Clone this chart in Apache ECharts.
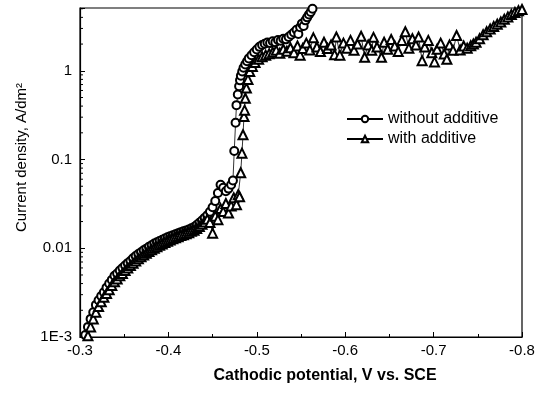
<!DOCTYPE html>
<html>
<head>
<meta charset="utf-8">
<script src="https://cdn.jsdelivr.net/npm/echarts@6/dist/echarts.min.js"></script>
<style>html,body{margin:0;padding:0;background:#fff}#c{width:539px;height:396px}</style>
</head>
<body>
<div id="c"></div>
<script>
// Series names
const seriesNames = ['without additive', 'with additive'];

// Without additive (circles): potential (V vs SCE) and current density (A/dm2)
const xWithout = [
  -0.306,-0.309,-0.312,-0.315,-0.318,-0.321,-0.324,-0.327,-0.330,-0.333,
  -0.336,-0.339,-0.342,-0.345,-0.348,-0.351,-0.354,-0.357,-0.360,-0.363,
  -0.366,-0.369,-0.372,-0.375,-0.378,-0.381,-0.384,-0.387,-0.390,-0.393,
  -0.396,-0.399,-0.402,-0.405,-0.408,-0.411,-0.414,-0.417,-0.420,-0.423,
  -0.426,-0.429,-0.432,-0.435,-0.438,-0.441,-0.444,-0.447,-0.450,-0.453,
  -0.456,-0.459,-0.462,-0.465,-0.468,-0.471,-0.473,-0.4745,-0.476,-0.477,
  -0.4785,-0.480,-0.481,-0.482,-0.4835,-0.485,-0.487,-0.489,-0.491,-0.494,
  -0.497,-0.500,-0.503,-0.506,-0.509,-0.512,-0.515,-0.518,-0.521,-0.524,
  -0.527,-0.530,-0.533,-0.536,-0.539,-0.542,-0.545,-0.547,-0.549,-0.551,
  -0.553,-0.555,-0.557,-0.559,-0.561,-0.563,-0.565,-0.567
];
const yWithout = [
  0.00105,0.0013,0.0016,0.0019,0.0023,0.0026,0.0029,0.0032,0.0036,0.0040,
  0.0044,0.0049,0.0052,0.0056,0.0060,0.0064,0.0068,0.0072,0.0077,0.0082,
  0.0086,0.0090,0.0095,0.0099,0.0104,0.0108,0.0113,0.0117,0.0121,0.0125,
  0.0129,0.0133,0.0137,0.0140,0.0144,0.0148,0.0152,0.0155,0.0159,0.0163,
  0.0168,0.0174,0.0183,0.0194,0.0206,0.0220,0.0236,0.0258,0.0290,0.0340,
  0.0420,0.0520,0.0480,0.0440,0.0470,0.0520,0.0580,0.125,0.26,0.41,
  0.54,0.67,0.78,0.88,0.98,1.08,1.18,1.28,1.38,1.50,
  1.62,1.74,1.86,1.95,2.02,2.08,2.05,2.15,2.10,2.22,
  2.18,2.30,2.26,2.40,2.55,2.70,2.90,2.60,3.10,3.40,
  3.20,3.70,4.00,4.30,4.60,5.00,5.50,6.00
];

// With additive (triangles)
const xWith = [
  -0.309,-0.312,-0.315,-0.318,-0.321,-0.324,-0.327,-0.330,-0.333,-0.336,
  -0.339,-0.342,-0.345,-0.348,-0.351,-0.354,-0.357,-0.360,-0.363,-0.366,
  -0.369,-0.372,-0.375,-0.378,-0.381,-0.384,-0.387,-0.390,-0.393,-0.396,
  -0.399,-0.402,-0.405,-0.408,-0.411,-0.414,-0.417,-0.420,-0.423,-0.426,
  -0.429,-0.432,-0.435,-0.438,-0.441,-0.444,-0.447,-0.450,-0.453,-0.456,
  -0.459,-0.462,-0.465,-0.468,-0.471,-0.474,-0.477,-0.479,-0.4805,-0.4818,
  -0.4832,-0.4844,-0.4855,-0.4862,-0.487,-0.4882,-0.490,-0.492,-0.495,-0.498,
  -0.502,-0.506,-0.510,-0.514,-0.518,-0.522,-0.526,-0.530,-0.534,-0.538,
  -0.542,-0.546,-0.549,-0.552,-0.556,-0.560,-0.564,-0.568,-0.572,-0.576,
  -0.580,-0.584,-0.588,-0.590,-0.594,-0.598,-0.602,-0.606,-0.610,-0.614,
  -0.618,-0.622,-0.626,-0.630,-0.632,-0.636,-0.641,-0.644,-0.648,-0.652,
  -0.656,-0.660,-0.664,-0.668,-0.672,-0.676,-0.680,-0.683,-0.687,-0.690,
  -0.694,-0.698,-0.701,-0.704,-0.708,-0.712,-0.715,-0.718,-0.722,-0.726,
  -0.730,-0.734,-0.738,-0.742,-0.745,-0.748,-0.752,-0.756,-0.760,-0.764,
  -0.768,-0.772,-0.776,-0.780,-0.784,-0.788,-0.792,-0.796,-0.800
];
const yWith = [
  0.00103,0.0013,0.0016,0.0019,0.0022,0.0025,0.0028,0.0031,0.0034,0.0038,
  0.0042,0.0045,0.0049,0.0052,0.0056,0.0060,0.0064,0.0068,0.0072,0.0076,
  0.0080,0.0084,0.0088,0.0092,0.0096,0.0100,0.0104,0.0108,0.0112,0.0116,
  0.0120,0.0124,0.0128,0.0131,0.0135,0.0139,0.0142,0.0146,0.0150,0.0155,
  0.0160,0.0167,0.0176,0.0186,0.0198,0.0212,0.0195,0.0148,0.0230,0.0210,
  0.0280,0.0260,0.0320,0.0250,0.0300,0.0370,0.0310,0.0400,0.0380,0.0710,
  0.118,0.190,0.305,0.36,0.49,0.64,0.80,0.98,1.12,1.24,
  1.35,1.44,1.50,1.56,1.62,1.70,1.58,1.75,1.66,1.82,
  1.60,1.90,1.50,1.78,2.05,1.72,2.35,1.85,1.65,2.10,
  1.78,1.95,1.52,2.40,1.50,2.05,1.80,2.20,1.70,2.00,
  2.45,1.42,1.95,1.70,2.38,1.85,1.42,2.10,1.75,2.25,
  1.90,1.65,2.20,2.75,1.80,2.30,1.95,2.40,1.30,1.85,
  2.20,1.60,1.26,1.75,2.05,1.55,1.35,1.95,1.70,2.50,
  1.72,1.90,1.80,1.92,2.00,2.10,2.30,2.55,2.75,2.95,
  3.15,3.35,3.55,3.80,4.05,4.30,4.55,4.75,4.90
];

// Axis ticks
const xMin = -0.8, xMax = -0.3, xStep = 0.1;
const yMin = 0.001, yMax = 5.1;
const yTickLabels = {'-3': '1E-3', '-2': '0.01', '-1': '0.1', '0': '1'};
const yMinorTickValues = [
  0.002,0.003,0.004,0.005,0.006,0.007,0.008,0.009,
  0.02,0.03,0.04,0.05,0.06,0.07,0.08,0.09,
  0.2,0.3,0.4,0.5,0.6,0.7,0.8,0.9,
  2,3,4,5
];

const zip = (xs, ys) => xs.map((x, i) => [x, ys[i]]);
const FONT = '"Liberation Sans", Arial, sans-serif';

const chart = echarts.init(document.getElementById('c'), null, {renderer: 'canvas'});
chart.setOption({
  backgroundColor: '#fff',
  animation: false,
  grid: {left: 80, right: 17, top: 8, bottom: 59, show: true, borderColor: '#000', borderWidth: 1.2, backgroundColor: 'transparent'},
  legend: {
    data: seriesNames,
    orient: 'vertical',
    left: 341, top: 106,
    itemWidth: 36, itemHeight: 8, itemGap: 4,
    textStyle: {fontFamily: FONT, fontSize: 16, color: '#000'},
    inactiveColor: '#000'
  },
  xAxis: {
    type: 'value', inverse: true, min: xMin, max: xMax, interval: xStep,
    axisLine: {lineStyle: {color: '#000', width: 1.2}},
    axisTick: {inside: true, length: 5, lineStyle: {color: '#000'}},
    minorTick: {show: true, splitNumber: 2, length: 3, lineStyle: {color: '#000'}},
    splitLine: {show: false},
    axisLabel: {fontFamily: FONT, fontSize: 15, color: '#000', margin: 6,
      formatter: v => v.toFixed(1)},
    name: 'Cathodic potential, V vs. SCE',
    nameLocation: 'middle', nameGap: 31,
    nameTextStyle: {fontFamily: FONT, fontSize: 16, fontWeight: 'bold', color: '#000', padding: [0, 0, 0, 48]}
  },
  yAxis: {
    type: 'log', logBase: 10, min: yMin, max: yMax,
    axisLine: {lineStyle: {color: '#000', width: 1.2}},
    axisTick: {inside: true, length: 5, lineStyle: {color: '#000'}},
    splitLine: {show: false},
    axisLabel: {fontFamily: FONT, fontSize: 15, color: '#000', margin: 8,
      formatter: v => {
        const l = Math.log10(v);
        const r = Math.round(l);
        if (Math.abs(l - r) > 1e-6) return '';
        return yTickLabels[String(r)] || '';
      }},
    name: 'Current density, A/dm²',
    nameLocation: 'middle', nameGap: 44,
    nameTextStyle: {fontFamily: FONT, fontSize: 15, color: '#000', padding: [0, 0, 0, 30]}
  },
  series: [
    {
      name: seriesNames[0], type: 'line', data: zip(xWithout, yWithout),
      symbol: 'emptyCircle', symbolSize: 8,
      itemStyle: {color: '#000', borderWidth: 1},
      lineStyle: {color: '#000', width: 0.8},
      clip: true, z: 2
    },
    {
      name: seriesNames[1], type: 'line', data: zip(xWith, yWith),
      symbol: 'emptyTriangle', symbolSize: 9,
      itemStyle: {color: '#000', borderWidth: 1},
      lineStyle: {color: '#000', width: 0.8},
      clip: true, z: 3
    },
    {
      name: 'yMinorTicks', type: 'custom', silent: true, z: 5,
      data: yMinorTickValues.map(v => [xMax, v]),
      renderItem: (params, api) => {
        const p = api.coord([api.value(0), api.value(1)]);
        return {type: 'line', shape: {x1: p[0], y1: p[1], x2: p[0] + 3, y2: p[1]},
          style: {stroke: '#000', lineWidth: 1}};
      }
    }
  ]
});
</script>
</body>
</html>
